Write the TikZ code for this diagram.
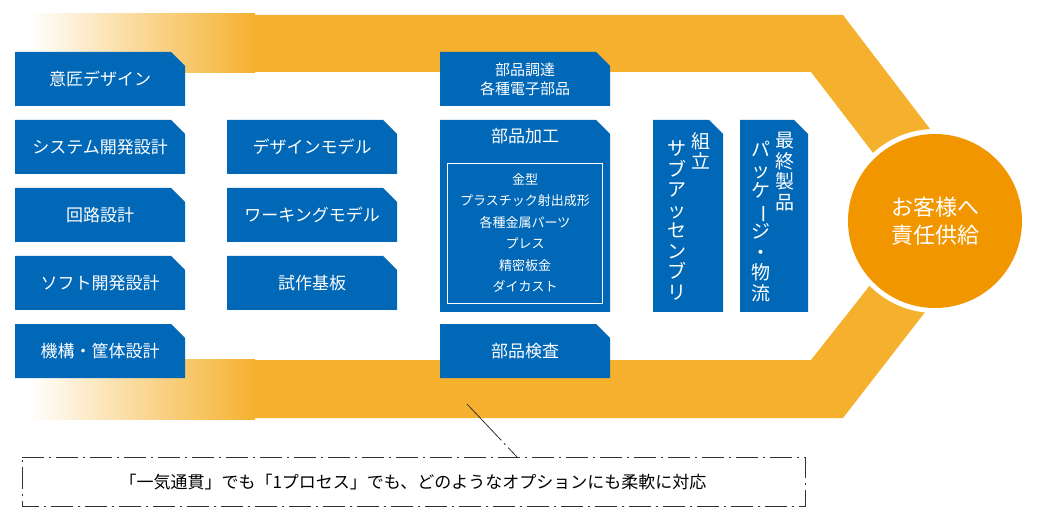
\documentclass[tikz,border=0pt]{standalone}
\usepackage{fontspec}
\setmainfont{Noto Sans CJK JP}
\usetikzlibrary{calc}
\definecolor{bandorange}{HTML}{F5B12E}
\definecolor{circorange}{HTML}{F29600}
\definecolor{boxblue}{HTML}{0068B7}
\tikzset{
  boxtxt/.style={text=white, font=\fontsize{17}{19}\selectfont, inner sep=0},
  vtxt/.style={text=white, font=\fontsize{19}{20.5}\selectfont, align=center, inner sep=0, anchor=north},
  callline/.style={black!80, thick, dash pattern=on 22pt off 5pt on 2pt off 5pt}
}
% chamfered box: name, x1, y1, x2, y2
\newcommand\bluebox[5]{%
  \fill[boxblue] (#2,#3) -- ({#4-14},#3) -- (#4,{#3+14}) -- (#4,#5) -- (#2,#5) -- cycle;
  \coordinate (#1) at ({(#2+#4)/2},{(#3+#5)/2});
}
\begin{document}
\begin{tikzpicture}[x=1pt,y=-1pt]
\useasboundingbox (0,0) rectangle (1044,521);
% band
\fill[bandorange] (30,15) -- (843,15) -- (998,218) -- (843,418) -- (30,418) -- (30,360)
  -- (811,360) -- (923,218) -- (811,72) -- (30,72) -- cycle;
\shade[left color=white, right color=bandorange] (29,14) rectangle (255,73);
\shade[left color=white, right color=bandorange] (29,359) rectangle (255,419);
% customer
\fill[white] (935,221) circle (92);
\fill[circorange] (935,221) circle (87);
\node[text=white, font=\fontsize{22}{28}\selectfont, align=center] (cust) at (935,221) {お客様へ\\責任供給};
% column 1
\bluebox{ishou}{15}{52}{185}{106}
\bluebox{system}{15}{120}{185}{174}
\bluebox{kairo}{15}{188}{185}{242}
\bluebox{soft}{15}{256}{185}{310}
\bluebox{kikou}{15}{324}{185}{378}
\node[boxtxt] (t1) at (ishou) {意匠デザイン};
\node[boxtxt] (t2) at (system) {システム開発設計};
\node[boxtxt] (t3) at (kairo) {回路設計};
\node[boxtxt] (t4) at (soft) {ソフト開発設計};
\node[boxtxt] (t5) at (kikou) {機構・筐体設計};
% column 2
\bluebox{dmodel}{227}{120}{397}{174}
\bluebox{wmodel}{227}{188}{397}{242}
\bluebox{shisaku}{227}{256}{397}{310}
\node[boxtxt] (t6) at (dmodel) {デザインモデル};
\node[boxtxt] (t7) at (wmodel) {ワーキングモデル};
\node[boxtxt] (t8) at (shisaku) {試作基板};
% column 3
\bluebox{chotatsu}{440}{52}{610}{106}
\bluebox{kakou}{440}{120}{610}{312}
\bluebox{kensa}{440}{324}{610}{378}
\node[boxtxt, align=center, font=\fontsize{15}{19}\selectfont] (t9) at (chotatsu) {部品調達\\各種電子部品};
\node[boxtxt, anchor=north] (t10) at (525,128) {部品加工};
\draw[white, thick] (447,163) rectangle (602,303);
\node[boxtxt, align=center, anchor=north, font=\fontsize{13}{21.5}\selectfont] (t11) at (525,173)
  {金型\\プラスチック射出成形\\各種金属パーツ\\プレス\\精密板金\\ダイカスト};
\node[boxtxt] (t12) at (kensa) {部品検査};
% columns 4,5
\bluebox{kumitate}{653}{120}{723}{312}
\bluebox{saishu}{740}{120}{808}{312}
\node[vtxt] (t13) at (701,132) {組\\立};
\node[vtxt] (t14) at (677,141) {サ\\ブ\\ア\\ッ\\セ\\ン\\ブ\\リ};
\node[vtxt] (t15) at (785,132) {最\\終\\製\\品};
\node[vtxt] (t16) at (761,141) {パ\\ッ\\ケ\\\rotatebox[origin=c]{-90}{ー}\\ジ\\・\\物\\流};
% callout
\coordinate (ctip) at (467,404);
\coordinate (cfoot) at (517,457);
\draw[callline] (22,457) -- (805,457) -- (805,506) -- (22,506) -- cycle;
\draw[black!80, thick, dash pattern=on 50pt off 4pt on 2pt off 4pt] (ctip) -- (cfoot);
\node[font=\fontsize{17}{20}\selectfont, inner sep=0] (note) at (413,482)
  {「一気通貫」でも「1プロセス」でも、どのようなオプションにも柔軟に対応};
\end{tikzpicture}
\end{document}
